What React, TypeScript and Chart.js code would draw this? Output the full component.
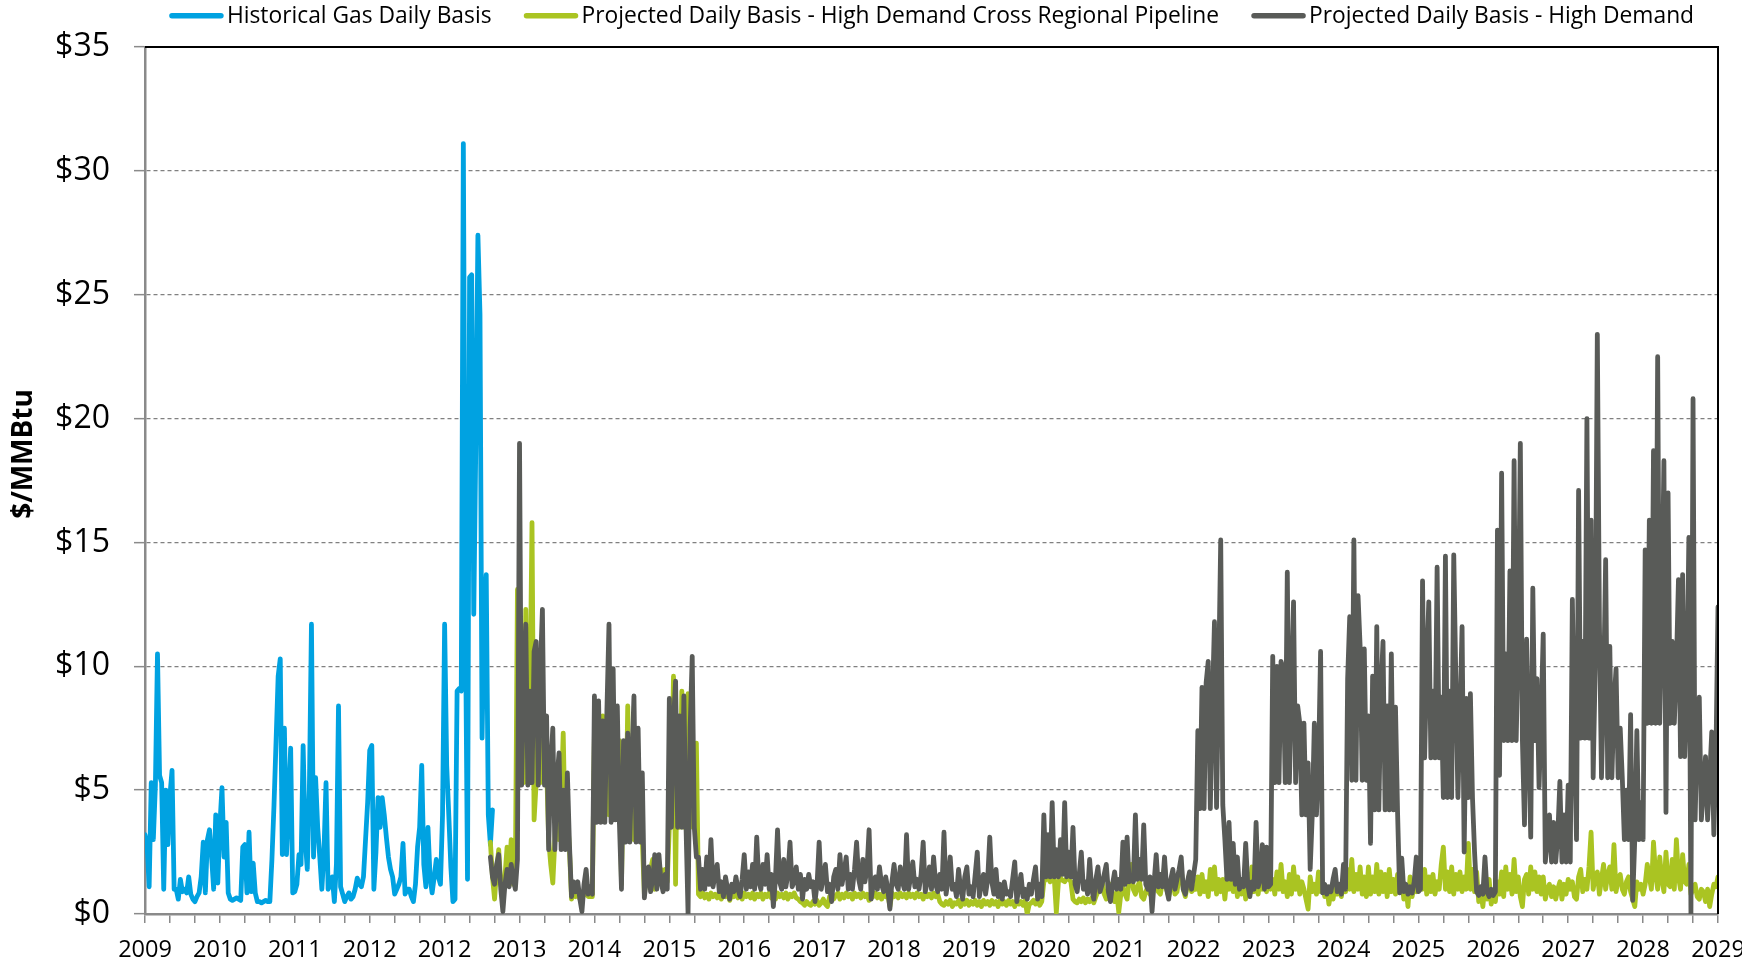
import React, { useEffect, useRef } from 'react';
import { Chart, registerables } from 'chart.js';

Chart.register(...registerables);

// Year labels shown under every third tick mark of the time axis
const YEAR_TICKS = [
  '2009', '2010', '2011', '2012', '2012', '2013', '2014', '2015', '2016', '2017', '2018',
  '2019', '2020', '2021', '2022', '2023', '2024', '2025', '2026', '2027', '2028', '2029',
];
const TICKS_PER_LABEL = 3;

const POINTS_PER_TICK = 12; // samples between two tick marks
const PROJ_START = 166; // sample position of the first projected value

const SERIES_NAMES = [
  'Historical Gas Daily Basis',
  'Projected Daily Basis - High Demand Cross Regional Pipeline',
  'Projected Daily Basis - High Demand',
];
const SERIES_COLORS = ['#00A2E1', '#AAC422', '#595B58'];

// $/MMBtu, historical daily basis
const historicalGasDailyBasis = [
  3.2, 2.8, 1.1, 5.3, 3.0, 5.2, 10.5, 5.6, 5.3, 1.0, 5.0, 2.8,
  4.8, 5.8, 1.0, 1.0, 0.6, 1.4, 0.9, 1.0, 0.85, 1.5, 0.8, 0.6,
  0.5, 0.7, 0.85, 1.5, 2.9, 0.85, 3.0, 3.4, 2.3, 1.0, 4.0, 1.25,
  3.6, 5.1, 2.3, 3.7, 0.85, 0.6, 0.55, 0.6, 0.65, 0.6, 0.55, 2.7,
  2.8, 0.85, 3.3, 0.9, 2.05, 0.85, 0.5, 0.5, 0.45, 0.5, 0.55, 0.5,
  0.5, 2.2, 4.4, 7.0, 9.6, 10.3, 2.4, 7.5, 2.4, 4.5, 6.7, 0.85,
  0.9, 1.2, 2.4, 2.0, 6.8, 3.0, 1.8, 5.0, 11.7, 2.3, 5.5, 3.5,
  2.3, 1.0, 2.5, 5.3, 1.0, 1.2, 1.5, 0.5, 2.0, 8.4, 1.1, 0.8,
  0.5, 0.7, 0.85, 0.6, 0.7, 1.0, 1.45, 1.2, 1.1, 1.5, 3.0, 4.5,
  6.6, 6.8, 1.0, 2.5, 4.7, 3.5, 4.7, 4.0, 3.1, 2.3, 1.8, 1.5,
  0.8, 1.0, 1.2, 1.5, 2.85, 0.8, 1.0, 1.0, 0.7, 0.5, 1.2, 2.7,
  3.5, 6.0, 2.0, 1.1, 3.5, 1.5, 0.85, 1.5, 2.2, 1.5, 1.2, 4.0,
  11.7, 6.0, 4.0, 1.9, 0.5, 0.6, 9.0, 9.1, 9.0, 31.1, 12.0, 1.4,
  25.7, 25.8, 12.1, 19.0, 27.4, 24.2, 7.1, 12.0, 13.7, 4.0, 2.8, 4.2,
];

// $/MMBtu, projected basis with the cross regional pipeline
const crossRegionalPipelineBasis = [
  2.9, 1.5, 0.6, 1.8, 2.6, 1.2, 0.8, 1.5, 2.7, 1.6, 3.0, 1.2, 1.5, 13.1,
  5.3, 9.0, 5.3, 12.3, 5.3, 8.5, 15.8, 3.8, 5.3, 8.0, 5.3, 7.0, 5.3, 6.0,
  3.0, 2.0, 1.25, 3.0, 5.0, 3.0, 4.5, 7.3, 3.0, 4.0, 2.6,
  0.6, 0.9, 0.7, 0.9, 0.6, 0.6, 0.8, 0.9, 0.7, 0.7, 0.7,
  7.3, 4.0, 6.5, 4.0, 8.0, 4.0, 7.0, 4.0, 9.0, 4.0, 7.5, 4.0, 7.0, 1.2,
  6.0, 3.0, 8.4, 3.0, 6.5, 3.0, 7.5, 3.0, 5.5, 3.0, 0.8,
  1.5, 1.2, 1.8, 2.2, 1.0, 1.2, 1.5, 1.8, 1.1, 1.8, 1.3,
  3.5, 5.0, 9.6, 1.2, 8.0, 3.5, 9.0, 3.5, 7.3, 8.9, 3.5, 6.0, 3.5, 6.9,
  0.8, 0.7, 0.85, 0.65, 0.8, 0.6, 0.85, 0.7, 0.8, 0.65, 0.85, 0.6,
  0.8, 0.7, 0.85, 0.55, 0.8, 0.7, 0.85, 0.65, 0.8, 0.6, 0.85, 0.7,
  0.8, 0.65, 0.85, 0.6, 0.8, 0.7, 0.85, 0.6, 0.8, 0.7, 0.85, 0.65,
  0.8, 0.6, 0.85, 0.7, 0.8, 0.65, 0.85, 0.6, 0.8, 0.7, 0.85, 0.65,
  0.6, 0.5, 0.45, 0.35, 0.5, 0.4, 0.35, 0.5, 0.4, 0.55, 0.35, 0.45,
  0.6, 0.4, 0.3, 0.7, 0.8, 0.6, 0.75, 0.85, 0.6, 0.8, 0.65, 0.85,
  0.7, 0.8, 0.6, 0.85, 0.7, 0.8, 0.65, 0.85, 0.7, 0.8, 0.55, 0.85,
  0.7, 0.85, 0.65, 0.8, 0.6, 0.85, 0.7, 0.8, 0.3, 0.85, 0.7, 0.8,
  0.65, 0.85, 0.7, 0.8, 0.65, 0.85, 0.7, 0.8, 0.65, 0.85, 0.7, 0.8,
  0.6, 0.85, 0.7, 0.8, 0.65, 0.85, 0.7, 0.8, 0.5, 0.4, 0.35, 0.5,
  0.4, 0.55, 0.3, 0.45, 0.4, 0.55, 0.3, 0.5, 0.4, 0.55, 0.35, 0.5,
  0.4, 0.55, 0.35, 0.5, 0.3, 0.55, 0.4, 0.5, 0.35, 0.55, 0.4, 0.5,
  0.3, 0.55, 0.4, 0.5, 0.35, 0.55, 0.4, 0.5, 0.3, 0.55, 0.4, 0.5,
  0.35, 0.55, 0.0, 0.4, 0.45, 0.55, 0.4, 0.55, 0.35, 0.5, 1.3, 1.4,
  1.45, 1.3, 1.35, 1.45, 0.07, 1.3, 1.45, 1.35, 1.3, 1.45, 1.4, 1.3,
  0.6, 0.5, 0.45, 0.6, 0.5, 0.65, 0.45, 0.6, 0.5, 0.65, 0.45, 0.7,
  0.9, 1.2, 1.4, 0.8, 0.6, 1.0, 1.2, 0.7, 0.5, 0.9, 0.07, 0.8,
  1.1, 0.8, 0.6, 1.4, 2.0, 1.0, 0.8, 1.1, 1.3, 0.7, 0.6, 0.9,
  1.1, 0.8, 0.7, 1.2, 1.5, 0.9, 0.8, 1.3, 1.9, 1.0, 0.7, 1.1,
  1.4, 0.8, 0.9, 1.5, 1.8, 1.0, 0.7, 1.2, 1.6, 0.9, 1.0,
  1.0, 1.5, 0.8, 1.6, 0.9, 1.3, 0.7, 1.8, 1.0, 1.9, 0.8, 1.4,
  0.9, 1.4, 0.6, 1.5, 1.0, 1.7, 0.9, 1.8, 0.7, 1.4, 0.8, 1.3,
  0.6, 1.6, 0.8, 1.9, 0.9, 1.2, 0.8, 1.5, 1.0, 1.4, 0.9, 1.6,
  1.0, 1.4, 0.8, 1.7, 1.0, 2.0, 0.9, 1.3, 0.7, 1.6, 0.8, 1.9,
  1.0, 1.5, 0.8, 1.3, 1.0, 0.6, 0.2, 1.5, 0.9, 1.2, 0.8, 1.7,
  0.9, 1.3, 0.7, 1.1, 0.4, 0.9, 0.6, 1.2, 0.8, 1.0, 0.7, 1.3,
  0.9, 1.8, 1.0, 2.2, 0.9, 1.6, 1.0, 1.9, 0.8, 1.5, 0.7, 1.9,
  0.8, 1.5, 0.9, 2.0, 0.8, 1.7, 0.9, 1.6, 0.7, 1.8, 0.9, 1.4,
  0.8, 1.6, 0.9, 1.4, 0.6, 1.1, 0.3, 1.5, 0.7, 1.2, 0.9, 1.0,
  1.6, 1.0, 1.8, 0.8, 1.5, 0.9, 1.6, 0.8, 1.3, 1.0, 2.0, 2.7,
  1.0, 1.7, 0.9, 1.9, 0.8, 1.6, 1.0, 1.7, 0.9, 1.5, 1.0, 2.85,
  1.0, 1.8, 0.9, 1.7, 0.5, 0.9, 0.3, 1.2, 0.6, 1.4, 0.4, 0.9,
  0.5, 1.3, 0.8, 1.7, 0.7, 1.9, 1.0, 1.6, 0.8, 2.2, 0.9, 1.5,
  0.7, 0.3, 1.4, 1.6, 0.8, 1.9, 1.0, 1.7, 0.9, 1.5, 0.8, 1.5,
  0.6, 1.0, 1.2, 0.7, 1.1, 0.6, 1.0, 1.3, 0.6, 1.2, 0.8, 1.4,
  1.0, 1.3, 0.7, 0.6, 1.5, 1.8, 0.9, 1.4, 1.0, 1.9, 3.3, 1.0,
  1.5, 1.7, 0.8, 1.4, 2.0, 1.0, 1.6, 1.9, 1.0, 2.8, 0.9, 1.4,
  1.6, 1.0, 0.8, 1.3, 1.5, 0.9, 0.6, 0.3, 1.3, 1.0, 1.2, 0.8,
  1.2, 2.0, 1.5, 1.0, 2.9, 1.6, 1.0, 2.3, 1.4, 0.9, 2.5, 1.2,
  1.1, 2.2, 1.0, 3.0, 1.5, 1.0, 2.4, 1.3, 1.2, 2.0, 0.8, 1.0,
  1.2, 0.7, 0.6, 1.0, 0.9, 0.5, 1.0, 0.3, 0.8, 1.2, 1.1, 1.5,
];

// $/MMBtu, projected basis under high demand
const highDemandBasis = [
  2.3, 1.5, 1.2, 2.0, 2.4, 1.0, 0.1, 1.2, 1.8, 1.1, 2.0, 1.4, 1.0, 2.2,
  19.0, 5.2, 9.5, 11.7, 5.2, 9.0, 5.3, 10.6, 11.0, 5.2, 9.8, 12.3, 5.2, 8.0,
  2.6, 6.0, 7.5, 2.6, 5.5, 6.5, 2.6, 5.0, 2.6, 5.7, 2.8,
  0.7, 1.3, 0.9, 1.3, 0.6, 0.1, 1.2, 1.8, 0.8, 1.1, 0.8,
  8.8, 3.7, 8.6, 3.7, 7.8, 3.7, 8.2, 11.7, 3.7, 9.9, 3.8, 8.4, 3.7, 1.0,
  7.0, 2.9, 7.3, 2.9, 6.2, 8.8, 2.9, 7.5, 2.9, 5.7, 0.65,
  1.5, 1.9, 0.9, 1.4, 2.4, 1.0, 2.4, 1.3, 0.9, 1.6, 1.0,
  8.7, 3.5, 7.8, 9.4, 3.5, 8.0, 3.5, 8.8, 3.6, 0.0, 7.5, 10.4, 3.5, 2.3,
  2.3, 1.0, 1.8, 1.0, 2.3, 1.2, 3.0, 1.1, 1.6, 2.0, 0.9, 1.3,
  0.7, 1.5, 1.0, 0.6, 1.2, 0.9, 1.5, 1.0, 0.7, 1.4, 2.4, 1.0,
  1.7, 1.1, 2.0, 1.0, 3.1, 1.3, 1.0, 2.0, 1.2, 2.4, 1.0, 1.6,
  0.3, 1.4, 3.4, 1.3, 1.0, 2.2, 1.1, 1.6, 2.9, 1.1, 1.3, 1.9,
  1.0, 1.6, 0.6, 1.4, 1.0, 1.6, 1.1, 1.3, 0.5, 1.2, 2.9, 1.0,
  1.5, 2.0, 0.9, 1.2, 0.5, 1.5, 1.8, 1.0, 2.4, 1.2, 1.7, 2.3,
  1.0, 1.6, 1.0, 1.8, 2.9, 1.4, 1.0, 2.2, 1.3, 1.8, 3.4, 0.6,
  1.2, 1.5, 1.0, 1.9, 1.2, 0.9, 1.5, 1.0, 0.2, 1.3, 2.0, 1.2,
  1.0, 1.9, 1.3, 1.0, 3.2, 1.0, 1.5, 2.1, 1.1, 1.4, 1.0, 1.6,
  2.9, 0.9, 1.3, 1.9, 1.0, 2.3, 1.2, 0.9, 1.6, 1.0, 3.3, 0.8,
  1.4, 2.3, 1.0, 1.2, 0.7, 1.8, 1.0, 0.6, 1.5, 1.9, 0.8, 1.1,
  0.7, 1.6, 2.5, 0.7, 1.2, 1.6, 0.8, 1.4, 3.1, 1.3, 0.8, 1.8,
  0.7, 1.2, 0.6, 1.3, 0.8, 0.9, 0.7, 1.4, 2.1, 0.5, 1.1, 1.6,
  0.7, 1.0, 0.6, 1.2, 0.8, 1.4, 1.9, 0.6, 1.2, 0.7, 4.0, 1.5,
  3.2, 1.5, 4.5, 1.5, 2.6, 1.5, 3.0, 1.6, 4.5, 1.5, 2.5, 1.5,
  3.5, 1.2, 0.9, 1.6, 2.5, 1.0, 1.3, 0.8, 2.2, 1.0, 0.6, 1.4,
  1.9, 0.9, 1.2, 1.6, 2.0, 0.9, 0.5, 1.2, 1.7, 1.0, 1.4, 1.0,
  2.9, 1.2, 3.1, 1.3, 1.5, 1.3, 4.0, 1.4, 2.2, 1.4, 3.6, 1.2,
  1.0, 1.5, 0.1, 1.3, 2.4, 1.1, 1.6, 1.1, 2.3, 1.0, 0.6, 1.4,
  1.8, 1.0, 1.4, 1.8, 2.3, 1.0, 0.8, 1.3, 1.7, 1.0, 1.6,
  2.2, 7.4, 4.25, 9.15, 4.25, 9.35, 10.2, 4.25, 8.5, 11.8, 4.3, 9.6, 15.1, 4.4,
  3.0, 1.4, 3.7, 1.4, 2.85, 1.2, 2.3, 1.0, 1.4, 1.1, 2.85, 1.2,
  0.7, 1.3, 1.0, 3.7, 1.1, 1.4, 2.8, 1.0, 2.7, 1.1, 1.2,
  10.4, 5.3, 10.0, 5.3, 10.2, 9.9, 5.3, 13.8, 5.3, 9.0, 12.6, 5.3,
  8.4, 7.7, 4.0, 7.7, 4.0, 6.1, 1.8, 4.0, 7.7, 4.0, 6.0, 10.6,
  0.85, 1.2, 0.8, 1.1, 0.9, 1.4, 1.8, 0.9, 1.2, 0.8, 2.0, 1.0,
  9.5, 12.0, 5.4, 15.1, 5.4, 12.85, 10.8, 5.4, 10.7, 5.4, 8.0, 2.85, 9.6,
  4.2, 11.6, 4.2, 9.0, 11.0, 4.2, 8.4, 4.2, 10.5, 4.2, 8.35, 4.1, 0.85,
  2.25, 0.9, 1.2, 0.8, 1.1, 0.85, 1.3, 2.3, 0.9, 1.0,
  13.45, 6.3, 10.0, 12.6, 6.3, 9.0, 6.3, 14.0, 6.3, 8.75, 4.7, 14.45, 4.7,
  9.0, 4.7, 14.5, 9.5, 4.7, 8.0, 11.6, 2.5, 8.7, 4.7, 8.9, 4.7,
  2.5, 0.9, 0.75, 1.1, 0.8, 2.3, 0.9, 0.7, 1.0, 0.75, 0.9,
  15.5, 5.6, 17.8, 7.0, 10.5, 7.0, 13.85, 7.0, 18.3, 7.0, 11.0, 19.0,
  7.0, 3.6, 11.1, 7.0, 3.1, 13.15, 7.0, 9.5, 5.1, 8.0, 11.3,
  2.1, 3.0, 4.0, 2.1, 3.7, 2.1, 3.2, 5.35, 2.1, 4.0, 2.1, 5.2, 2.1,
  12.7, 7.1, 3.0, 17.1, 7.1, 11.0, 7.1, 20.0, 7.1, 15.9, 5.5, 10.0, 23.4,
  11.8, 5.5, 9.0, 14.3, 5.5, 10.8, 5.5, 8.5, 9.9, 5.5, 7.5, 5.5,
  3.0, 5.0, 3.0, 8.05, 0.55, 3.0, 7.4, 3.0, 4.5, 3.0,
  14.7, 7.7, 15.9, 7.7, 18.7, 7.7, 22.5, 7.7, 12.0, 18.3, 4.1, 17.0,
  7.7, 11.0, 7.7, 10.0, 13.5, 6.35, 13.7, 6.35, 9.0, 15.2, 0.0,
  20.8, 3.8, 7.5, 8.75, 3.8, 5.0, 6.35, 3.8, 5.5, 7.35, 3.2, 6.4, 12.4,
];

const FONT = '"Open Sans", "Noto Sans", sans-serif';
const AXIS_GREY = '#8a8a8a';
const TICK_COUNT = (YEAR_TICKS.length - 1) * TICKS_PER_LABEL;

function toPoints(values: number[], start: number) {
  return values.map((y, k) => ({ x: (start + k) / POINTS_PER_TICK, y }));
}

// Plot frame (top/right), legend across the top and the rotated axis title
const decorations = {
  id: 'decorations',
  afterDraw(chart: Chart) {
    const { ctx, chartArea } = chart;
    ctx.save();

    ctx.strokeStyle = '#000';
    ctx.lineWidth = 2;
    ctx.beginPath();
    ctx.moveTo(chartArea.left, chartArea.top);
    ctx.lineTo(chartArea.right, chartArea.top);
    ctx.lineTo(chartArea.right, chartArea.bottom);
    ctx.stroke();

    ctx.font = `22.8px ${FONT}`;
    ctx.textBaseline = 'alphabetic';
    ctx.textAlign = 'left';
    const sample = 55;
    const gap = 3;
    const between = 32;
    const widths = SERIES_NAMES.map((n) => ctx.measureText(n).width);
    const total =
      widths.reduce((s, w) => s + sample + gap + w, 0) + between * (SERIES_NAMES.length - 1);
    let x = (chartArea.left + chartArea.right) / 2 - total / 2;
    SERIES_NAMES.forEach((name, k) => {
      ctx.strokeStyle = SERIES_COLORS[k];
      ctx.lineWidth = 5.5;
      ctx.lineCap = 'round';
      ctx.beginPath();
      ctx.moveTo(x + 3, 15.7);
      ctx.lineTo(x + sample - 3, 15.7);
      ctx.stroke();
      ctx.fillStyle = '#000';
      ctx.fillText(name, x + sample + gap, 22.7);
      x += sample + gap + widths[k] + between;
    });

    ctx.translate(32.3, 454);
    ctx.rotate(-Math.PI / 2);
    ctx.font = `bold 28px ${FONT}`;
    ctx.textAlign = 'center';
    ctx.fillStyle = '#000';
    ctx.fillText('$/MMBtu', 0, 0);

    ctx.restore();
  },
};

export default function App() {
  const canvasRef = useRef<HTMLCanvasElement | null>(null);

  useEffect(() => {
    document.body.style.margin = '0';
    const canvas = canvasRef.current;
    if (!canvas) return;

    const common = {
      pointRadius: 0,
      borderWidth: 4.8,
      tension: 0,
      fill: false,
      borderJoinStyle: 'round' as const,
      borderCapStyle: 'round' as const,
    };

    const chart = new Chart(canvas, {
      type: 'line',
      data: {
        datasets: [
          {
            ...common,
            label: SERIES_NAMES[0],
            data: toPoints(historicalGasDailyBasis, 0),
            borderColor: SERIES_COLORS[0],
            backgroundColor: SERIES_COLORS[0],
            order: 2,
          },
          {
            ...common,
            label: SERIES_NAMES[1],
            data: toPoints(crossRegionalPipelineBasis, PROJ_START),
            borderColor: SERIES_COLORS[1],
            backgroundColor: SERIES_COLORS[1],
            order: 1,
          },
          {
            ...common,
            label: SERIES_NAMES[2],
            data: toPoints(highDemandBasis, PROJ_START),
            borderColor: SERIES_COLORS[2],
            backgroundColor: SERIES_COLORS[2],
            order: 0,
          },
        ],
      },
      options: {
        responsive: false,
        animation: false,
        devicePixelRatio: 1,
        layout: { padding: { top: 47, right: 24, left: 0, bottom: 0 } },
        plugins: {
          legend: { display: false },
          tooltip: { enabled: false },
        },
        scales: {
          x: {
            type: 'linear',
            min: 0,
            max: TICK_COUNT,
            grid: {
              display: true,
              drawOnChartArea: false,
              drawTicks: true,
              tickLength: 9,
              lineWidth: 1.5,
              color: AXIS_GREY,
            },
            border: { display: true, color: AXIS_GREY, width: 2.5 },
            ticks: {
              stepSize: 1,
              autoSkip: false,
              maxRotation: 0,
              minRotation: 0,
              padding: 13,
              color: '#000',
              font: { family: FONT, size: 23.5 },
              callback: (v: any) => {
                const n = Math.round(Number(v));
                return n % TICKS_PER_LABEL === 0 ? YEAR_TICKS[n / TICKS_PER_LABEL] : '';
              },
            },
            afterFit: (scale: any) => {
              scale.height = 52;
              scale.paddingLeft = 0;
              scale.paddingRight = 0;
            },
          },
          y: {
            min: 0,
            max: 35,
            grid: {
              color: '#808080',
              lineWidth: 1.3,
              tickLength: 11,
              tickColor: AXIS_GREY,
              tickWidth: 1.5,
            },
            border: { display: true, color: AXIS_GREY, width: 2.5, dash: [4, 3] },
            ticks: {
              stepSize: 5,
              padding: 24,
              color: '#000',
              font: { family: FONT, size: 32 },
              callback: (v: any) => '$' + v,
            },
            afterFit: (scale: any) => {
              scale.width = 145;
            },
          },
        },
      },
      plugins: [decorations],
    });

    return () => chart.destroy();
  }, []);

  return (
    <div style={{ position: 'absolute', left: 0, top: 0, width: 1742, height: 966, background: '#fff' }}>
      <canvas ref={canvasRef} width={1742} height={966} style={{ display: 'block' }} />
    </div>
  );
}
